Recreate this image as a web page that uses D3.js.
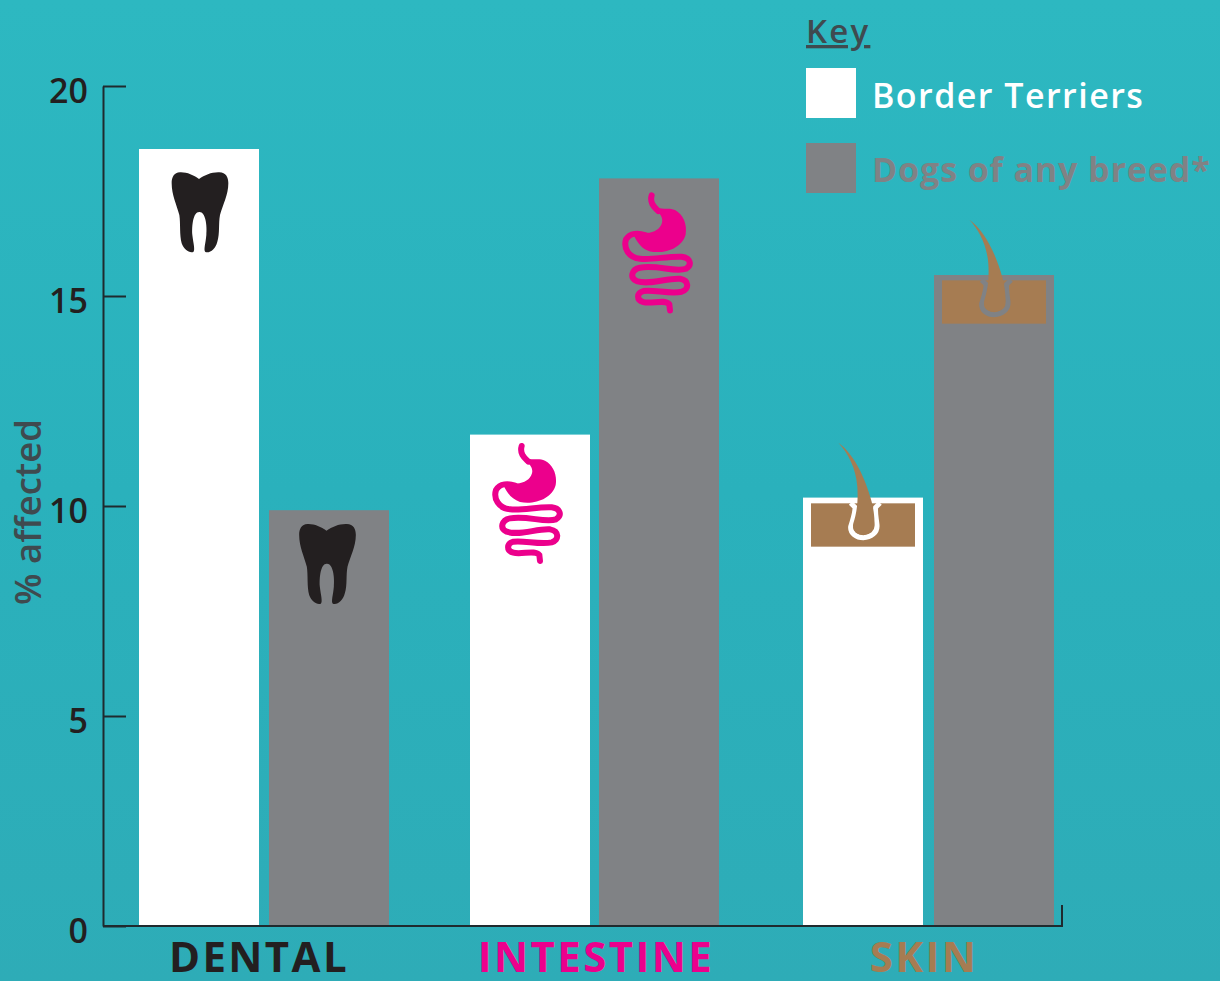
<!DOCTYPE html>
<html>
<head>
<meta charset="utf-8">
<script src="https://cdn.jsdelivr.net/npm/d3@7"></script>
<style>
  html, body { margin: 0; padding: 0; }
  svg { display: block; font-family: "Open Sans", sans-serif; }
</style>
</head>
<body>
<svg id="chart" width="1220" height="981"></svg>
<script>
const categories = ["DENTAL", "INTESTINE", "SKIN"]
const categoryColors = ["#231f20", "#ec008c", "#a67c52"]
const seriesNames = ["Border Terriers", "Dogs of any breed*"]
const seriesColors = ["#ffffff", "#808285"]
const borderTerriers = [18.5, 11.7, 10.2]
const anyBreed = [9.9, 17.8, 15.5]
const yTicks = [0, 5, 10, 15, 20]

const toothPath = "M207 117C190 105 170 96 150 97C132 98 125 112 125 130C125 165 140 195 148 225C152 250 148 285 155 310C162 330 178 340 190 336C196 330 190 310 187 285C185 255 190 215 208 216C226 215 232 255 229 285C227 310 220 330 226 336C240 340 256 328 262 305C270 280 265 250 270 225C278 195 295 165 295 130C295 112 288 98 268 97C245 96 225 105 207 117Z"
const stomachPath = "M163 80C185 95 205 82 225 92C250 105 262 135 257 165C247 205 195 225 150 216C125 208 112 190 100 165L135 160C160 162 180 150 186 130C190 115 180 100 163 92Z"
const gutPath = "M155 48C148 72 165 85 175 95M135 167C115 160 90 160 78 180C70 205 85 235 120 238C160 242 200 230 245 232C270 235 278 255 258 268C225 280 170 255 120 265C95 270 88 295 110 305C150 318 200 295 240 298C268 303 268 330 245 337C210 345 160 330 130 335C110 340 108 362 130 368C155 375 195 358 208 375L210 393"
const hairPath = "M115 38C160 70 195 140 215 215C220 235 225 265 223 285C218 305 205 315 190 315C170 315 155 300 160 280C170 250 175 215 172 170C168 115 145 70 115 38Z"
const follicleOutline = "M152 219L165 232C166 250 157 272 152 290C150 310 170 323 190 323C212 323 233 308 231 285C229 265 225 250 227 232L240 219"

const svg = d3.select("#chart"),
    width = +svg.attr("width"),
    height = +svg.attr("height");

const bg = svg.append("defs").append("linearGradient")
    .attr("id", "bg")
    .attr("x1", 0).attr("y1", 0).attr("x2", 0).attr("y2", 1)
bg.append("stop").attr("offset", "0%").attr("stop-color", "#2db8c1")
bg.append("stop").attr("offset", "50%").attr("stop-color", "#2ab1bc")
bg.append("stop").attr("offset", "100%").attr("stop-color", "#2eacb7")

svg.append("rect")
    .attr("width", width)
    .attr("height", height)
    .attr("fill", "url(#bg)")

const y = d3.scaleLinear().domain([0, 20]).range([926, 86])
const xWhite = d3.scaleOrdinal().domain(categories).range([139, 470, 803])
const xGrey = d3.scaleOrdinal().domain(categories).range([269, 599, 934])
const barWidth = 120

const rows = categories.map((c, i) => ({
    category: c, white: borderTerriers[i], grey: anyBreed[i]
}))

// bars
svg.append("g").selectAll("rect")
    .data(rows).enter()
    .append("rect")
    .attr("x", d => xWhite(d.category))
    .attr("y", d => y(d.white))
    .attr("width", barWidth)
    .attr("height", d => y(0) - y(d.white))
    .attr("fill", seriesColors[0])

svg.append("g").selectAll("rect")
    .data(rows).enter()
    .append("rect")
    .attr("x", d => xGrey(d.category))
    .attr("y", d => y(d.grey))
    .attr("width", barWidth)
    .attr("height", d => y(0) - y(d.grey))
    .attr("fill", seriesColors[1])

// axes
const yAxis = svg.append("g")
    .attr("transform", "translate(103,0)")
    .call(d3.axisLeft(y).tickValues(yTicks).tickSize(-23).tickPadding(38).tickSizeOuter(0))
yAxis.selectAll("line").attr("stroke", "#1f2a2e").attr("stroke-width", 2)
yAxis.select(".domain").attr("stroke", "#1f2a2e").attr("stroke-width", 2)
yAxis.selectAll("text")
    .attr("fill", "#231f20")
    .attr("font-family", "'Open Sans', sans-serif")
    .attr("font-size", 34)
    .attr("font-weight", 600)
    .attr("dx", 23)
    .attr("dy", "0.49em")

svg.append("path")
    .attr("d", d3.line()([[103, y(0)], [1062, y(0)], [1062, 905]]))
    .attr("fill", "none")
    .attr("stroke", "#1f2a2e")
    .attr("stroke-width", 2)

// y title
svg.append("text")
    .attr("transform", "translate(41,512) rotate(-90)")
    .attr("text-anchor", "middle")
    .attr("font-size", 36.5)
    .attr("font-weight", 600)
    .attr("fill", "#3f4a4f")
    .text("% affected")

// category labels
svg.append("g").selectAll("text")
    .data(categories).enter()
    .append("text")
    .attr("x", (d, i) => [259, 596, 924][i])
    .attr("y", 972)
    .attr("text-anchor", "middle")
    .attr("font-size", 42)
    .attr("font-weight", 700)
    .attr("letter-spacing", 2.4)
    .attr("fill", (d, i) => categoryColors[i])
    .text(d => d)

// icons, drawn in the 3x space they were traced in
const icon = (dx, dy) => svg.append("g").attr("transform", `translate(${dx},${dy}) scale(${1 / 3})`)

const drawTooth = (dx, dy) => icon(dx, dy).append("path").attr("d", toothPath).attr("fill", "#231f20")

const drawGut = (dx, dy) => {
    const g = icon(dx, dy)
    g.append("path").attr("d", stomachPath).attr("fill", "#ec008c")
    g.append("path").attr("d", gutPath)
        .attr("fill", "none")
        .attr("stroke", "#ec008c")
        .attr("stroke-width", 18)
        .attr("stroke-linecap", "round")
}

const drawHair = (dx, dy, outline) => {
    const g = icon(dx, dy)
    g.append("rect").attr("x", 33).attr("y", 220).attr("width", 312).attr("height", 130).attr("fill", "#a67c52")
    g.append("path").attr("d", follicleOutline)
        .attr("fill", "none")
        .attr("stroke", outline)
        .attr("stroke-width", 15)
    g.append("path").attr("d", hairPath).attr("fill", "#a67c52")
}

drawTooth(xWhite("DENTAL") - 9, y(borderTerriers[0]) - 9)
drawTooth(xGrey("DENTAL") - 11.5, y(anyBreed[0]) - 18.5)
drawGut(xWhite("INTESTINE"), y(borderTerriers[1]) - 4.6)
drawGut(xGrey("INTESTINE") + 1, y(anyBreed[1]) + 1)
drawHair(xWhite("SKIN") - 3, y(borderTerriers[2]) - 67.6, seriesColors[0])
drawHair(xGrey("SKIN") - 3, y(anyBreed[2]) - 68, seriesColors[1])

// key
svg.append("text")
    .attr("x", 806)
    .attr("y", 43)
    .attr("font-size", 33)
    .attr("font-weight", 600)
    .attr("letter-spacing", 2.2)
    .attr("fill", "#3f4a4f")
    .attr("text-decoration", "underline")
    .text("Key")

const legend = svg.append("g").selectAll("g")
    .data(seriesNames).enter()
    .append("g")
    .attr("transform", (d, i) => `translate(806,${68 + i * 75})`)
legend.append("rect")
    .attr("width", 50)
    .attr("height", 50)
    .attr("fill", (d, i) => seriesColors[i])
legend.append("text")
    .attr("x", 66)
    .attr("y", (d, i) => i ? 38.5 : 40)
    .attr("font-size", 34)
    .attr("font-weight", (d, i) => i ? 700 : 600)
    .attr("letter-spacing", (d, i) => i ? 0.9 : 1.45)
    .attr("fill", (d, i) => seriesColors[i])
    .text(d => d)
</script>
</body>
</html>
